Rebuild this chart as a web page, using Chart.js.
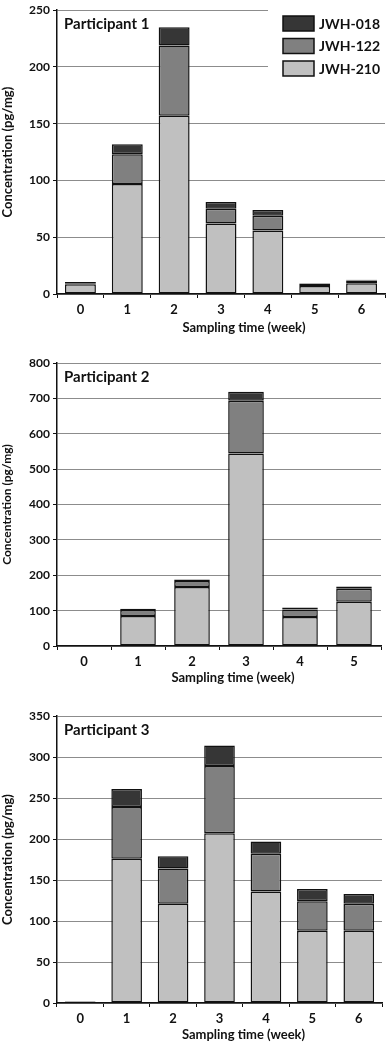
<!DOCTYPE html>
<html>
<head>
<meta charset="utf-8">
<script src="https://cdn.jsdelivr.net/npm/chart.js@4.4.1/dist/chart.umd.min.js"></script>
<style>
  html, body { margin: 0; padding: 0; background: #fff; }
  body { width: 387px; height: 1044px; position: relative; overflow: hidden; }
  .box { position: absolute; left: 0; width: 387px; }
</style>
</head>
<body>
<div class="box" style="top:0px;height:340px"><canvas id="c1"></canvas></div>
<div class="box" style="top:350px;height:345px"><canvas id="c2"></canvas></div>
<div class="box" style="top:700px;height:344px"><canvas id="c3"></canvas></div>
<script>
// Dados (pg/mg)
const semanas1 = ['0', '1', '2', '3', '4', '5', '6'];
const p1_jwh210 = [8.5, 97, 157, 62, 56, 7, 9.5];
const p1_jwh122 = [1, 26, 62, 13, 13, 2, 2.5];
const p1_jwh018 = [1, 9, 16, 6, 5, 0.5, 0.5];

const semanas2 = ['0', '1', '2', '3', '4', '5'];
const p2_jwh210 = [0, 85, 167, 544, 82, 125];
const p2_jwh122 = [0, 17, 17, 149, 21, 37];
const p2_jwh018 = [0, 3, 4, 26, 6, 6];

const semanas3 = ['0', '1', '2', '3', '4', '5', '6'];
const p3_jwh210 = [1, 176, 121, 207, 136, 88, 88];
const p3_jwh122 = [0.5, 63, 43, 82, 46, 36, 33];
const p3_jwh018 = [0.5, 22, 15, 25, 15, 15, 12];

const nomes = ['JWH-210', 'JWH-122', 'JWH-018'];
const cores = ['#c0c0c0', '#808080', '#363636'];

const FONTE = 'Lato, "Open Sans", sans-serif';

// Título "Participant N" e título do eixo X (deslocado para a direita, como no original)
const textosInternos = {
    id: 'textosInternos',
    afterDraw(chart, args, opts) {
        const ctx = chart.ctx;
        const a = chart.chartArea;
        ctx.save();
        ctx.fillStyle = '#111';
        ctx.textAlign = 'left';
        ctx.textBaseline = 'middle';
        ctx.font = 'bold 15px ' + FONTE;
        ctx.fillText(opts.texto, a.left + 7, a.top + 14);
        ctx.textAlign = 'center';
        ctx.font = 'bold 13px ' + FONTE;
        ctx.fillText('Sampling time (week)', (a.left + a.right) / 2 + opts.desvioX, a.bottom + opts.distX);
        ctx.restore();
    }
};

// Legenda desenhada no canto superior direito (só no primeiro gráfico)
const legendaInterna = {
    id: 'legendaInterna',
    afterDraw(chart, args, opts) {
        if (!opts.mostrar) return;
        const ctx = chart.ctx;
        const a = chart.chartArea;
        ctx.save();
        ctx.fillStyle = '#fff';
        ctx.fillRect(268, 0, a.right - 268 + 1, 80);
        const ds = chart.data.datasets.slice().reverse();
        ds.forEach((d, i) => {
            const y = 16 + i * 22.5;
            ctx.fillStyle = d.backgroundColor;
            ctx.fillRect(283, y, 31, 15);
            ctx.strokeStyle = '#111';
            ctx.lineWidth = 1.5;
            ctx.strokeRect(283, y, 31, 15);
            ctx.fillStyle = '#111';
            ctx.font = 'bold 14px ' + FONTE;
            ctx.textAlign = 'left';
            ctx.textBaseline = 'middle';
            ctx.fillText(d.label, 319, y + 8);
        });
        ctx.restore();
    }
};

function criarGrafico(id, labels, series, cfg) {
    const ctx = document.getElementById(id).getContext('2d');
    return new Chart(ctx, {
        type: 'bar',
        data: {
            labels: labels,
            datasets: series.map((dados, i) => ({
                label: nomes[i],
                data: dados,
                backgroundColor: cores[i],
                borderColor: '#111',
                borderWidth: 1.5,
                borderSkipped: false,
                categoryPercentage: 1,
                barPercentage: 0.66
            }))
        },
        options: {
            responsive: true,
            maintainAspectRatio: false,
            animation: false,
            layout: { padding: { top: cfg.padTop, bottom: cfg.padBottom, left: 0, right: cfg.padRight } },
            scales: {
                x: {
                    stacked: true,
                    afterFit: (s) => { s.height = cfg.alturaX; },
                    grid: { offset: true, drawOnChartArea: false, drawTicks: true, tickLength: 4, tickColor: '#111', tickWidth: 1 },
                    border: { color: '#111', width: 1.5 },
                    ticks: { color: '#111', padding: 4, font: { family: FONTE, size: 13, weight: 'bold' } }
                },
                y: {
                    stacked: true,
                    min: 0,
                    max: cfg.max,
                    afterFit: (s) => { s.width = 57; },
                    grid: { color: '#8c8c8c', lineWidth: 1, tickLength: 4, tickColor: '#111', drawTicks: true },
                    border: { color: '#111', width: 1.5 },
                    ticks: { stepSize: cfg.passo, color: '#111', padding: 3, font: { family: FONTE, size: 12, weight: 'bold' } },
                    title: {
                        display: true,
                        text: 'Concentration (pg/mg)',
                        color: '#111',
                        padding: { top: 0, bottom: 2 },
                        font: { family: FONTE, size: cfg.fonteY, weight: 'bold' }
                    }
                }
            },
            plugins: {
                legend: { display: false },
                tooltip: { enabled: false },
                textosInternos: { texto: cfg.titulo, desvioX: cfg.desvioX, distX: cfg.distX },
                legendaInterna: { mostrar: cfg.legenda }
            }
        },
        plugins: [textosInternos, legendaInterna]
    });
}

criarGrafico('c1', semanas1, [p1_jwh210, p1_jwh122, p1_jwh018],
    { titulo: 'Participant 1', max: 250, passo: 50, padTop: 7, padBottom: 3, padRight: 2, alturaX: 43,
      legenda: true, fonteY: 13, desvioX: 23, distX: 34 });

criarGrafico('c2', semanas2, [p2_jwh210, p2_jwh122, p2_jwh018],
    { titulo: 'Participant 2', max: 800, passo: 100, padTop: 13, padBottom: 8, padRight: 6, alturaX: 41,
      legenda: false, fonteY: 12, desvioX: 14, distX: 32 });

criarGrafico('c3', semanas3, [p3_jwh210, p3_jwh122, p3_jwh018],
    { titulo: 'Participant 3', max: 350, passo: 50, padTop: 16, padBottom: 0, padRight: 5, alturaX: 41,
      legenda: false, fonteY: 13, desvioX: 24, distX: 32 });
</script>
</body>
</html>
